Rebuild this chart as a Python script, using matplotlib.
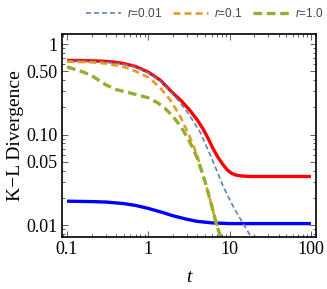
import matplotlib
matplotlib.use('Agg')
import matplotlib.pyplot as plt
from matplotlib.ticker import FixedLocator, FixedFormatter, LogLocator, NullFormatter

plt.rcParams['mathtext.fontset'] = 'custom'
plt.rcParams['mathtext.it'] = 'Liberation Sans:italic'
plt.rcParams['mathtext.rm'] = 'Liberation Sans'

# data
t_red = [0.1, 0.15, 0.2, 0.3, 0.4, 0.5, 0.7, 1.0, 1.4, 2.0, 2.5, 3.2, 4.0, 4.67, 5.4, 6.2, 7.2, 8.3,
         9.3, 10.5, 12, 13.8, 17, 20, 30, 100]
kl_red = [0.66, 0.658, 0.654, 0.645, 0.63, 0.61, 0.565, 0.49, 0.40, 0.288, 0.24, 0.188, 0.145, 0.117,
          0.092, 0.071, 0.056, 0.0465, 0.041, 0.0375, 0.0357, 0.035, 0.0345, 0.0345, 0.0345, 0.0345]

t_blue = [0.1, 0.2, 0.3, 0.5, 0.7, 1.0, 1.5, 2.0, 3.0, 4.0, 6.0, 10, 20, 100]
kl_blue = [0.0184, 0.0182, 0.018, 0.0173, 0.0165, 0.0153, 0.0138, 0.0127, 0.0116, 0.011, 0.0106,
           0.0104, 0.0104, 0.0104]

t_r001 = [0.1, 0.2, 0.3, 0.5, 0.7, 1.0, 1.4, 2.0, 2.4, 3.0, 3.5, 4.3, 5.0, 5.66, 6.8, 8.3, 9.5, 10.9,
          12.5, 15.3, 17, 19.5]
kl_r001 = [0.65, 0.645, 0.635, 0.6, 0.555, 0.48, 0.39, 0.278, 0.232, 0.178, 0.145, 0.108, 0.08, 0.062,
           0.042, 0.027, 0.021, 0.0165, 0.0132, 0.0098, 0.0083, 0.0068]

t_r01 = [0.1, 0.2, 0.3, 0.5, 0.7, 1.0, 1.4, 1.9, 2.5, 2.9, 3.4, 4.0, 5.0, 6.0, 7.0, 7.9]
kl_r01 = [0.64, 0.63, 0.61, 0.56, 0.5, 0.43, 0.33, 0.235, 0.155, 0.117, 0.085, 0.058, 0.03, 0.0165,
          0.0097, 0.0071]

t_r1 = [0.1, 0.15, 0.2, 0.25, 0.3, 0.4, 0.5, 0.7, 1.0, 1.3, 1.6, 2.0, 2.5, 3.0, 3.5, 4.0, 5.0, 6.0, 7.0, 7.9]
kl_r1 = [0.56, 0.5, 0.45, 0.395, 0.355, 0.315, 0.3, 0.278, 0.255, 0.225, 0.195, 0.16, 0.123, 0.094,
         0.072, 0.055, 0.03, 0.0165, 0.0097, 0.0071]

x_ticks = [0.1, 1, 10, 100]
x_labels = ['0.1', '1', '10', '100']
y_ticks = [0.01, 0.05, 0.1, 0.5, 1]
y_labels = ['0.01', '0.05', '0.10', '0.50', '1']

fig = plt.figure(figsize=(3.27, 2.89), dpi=100)
ax = fig.add_axes([0.19, 0.18, 0.776, 0.702])

ax.plot(t_red, kl_red, color='#ff0000', lw=2.4, solid_capstyle='butt')
ax.plot(t_blue, kl_blue, color='#0000ff', lw=2.4, solid_capstyle='butt')
ax.plot(t_r001, kl_r001, color='#5e81b5', lw=1.2, dashes=(3, 1.8), label='$r$=0.01')
ax.plot(t_r01, kl_r01, color='#e19c24', lw=1.9, dashes=(2.6, 1.6), label='$r$=0.1')
ax.plot(t_r1, kl_r1, color='#8fb032', lw=2.4, dashes=(2.6, 1.4), label='$r$=1.0')

ax.set_xscale('log')
ax.set_yscale('log')
ax.set_xlim(0.087, 115)
ax.set_ylim(0.0074, 1.29)

ax.xaxis.set_major_locator(FixedLocator(x_ticks))
ax.xaxis.set_major_formatter(FixedFormatter(x_labels))
ax.yaxis.set_major_locator(FixedLocator(y_ticks))
ax.yaxis.set_major_formatter(FixedFormatter(y_labels))
ax.xaxis.set_minor_locator(LogLocator(base=10, subs=range(2, 10)))
ax.yaxis.set_minor_locator(LogLocator(base=10, subs=range(2, 10)))
ax.xaxis.set_minor_formatter(NullFormatter())
ax.yaxis.set_minor_formatter(NullFormatter())

ax.tick_params(which='both', direction='in', top=True, right=True, width=0.6, color='#444444')
ax.tick_params(which='major', length=4, labelsize=13, pad=3)
ax.tick_params(which='minor', length=2)
for lbl in ax.get_xticklabels() + ax.get_yticklabels():
    lbl.set_family('Liberation Serif')
for s in ax.spines.values():
    s.set_linewidth(1.2)

ax.set_xlabel('t', family='Liberation Serif', style='italic', fontsize=14, labelpad=8)
ax.set_ylabel('K\u2212L Divergence', family='Liberation Serif', fontsize=14, labelpad=2)

leg = fig.legend(loc='center', bbox_to_anchor=(0.625, 0.952), ncol=3, frameon=False,
                 handlelength=3.0, handletextpad=0.5, columnspacing=0.9,
                 prop={'family': 'Liberation Sans', 'size': 8.5})
for txt in leg.get_texts():
    txt.set_color('#444444')

fig.savefig('out.png', dpi=100)
